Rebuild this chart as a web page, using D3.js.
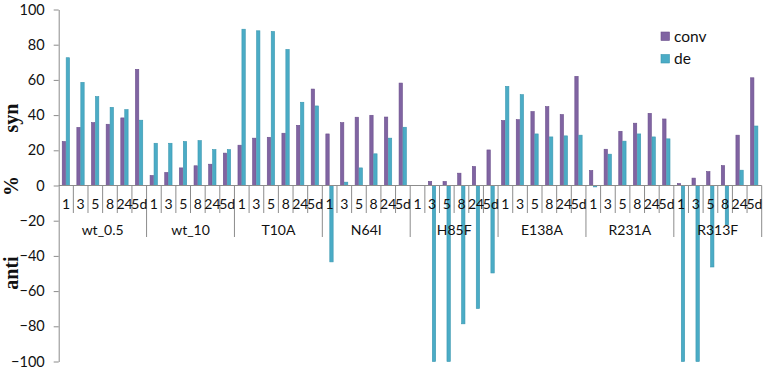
<!DOCTYPE html>
<html>
<head>
<meta charset="utf-8">
<style>
  body { margin: 0; background: #fff; }
  svg { display: block; font-family: Lato, "Open Sans", sans-serif; }
</style>
<script src="https://cdnjs.cloudflare.com/ajax/libs/d3/7.8.5/d3.min.js"></script>
</head>
<body>
<div id="chart"></div>
<script>
// data
const groups = ["wt_0.5", "wt_10", "T10A", "N64I", "H85F", "E138A", "R231A", "R313F"];
const times = ["1", "3", "5", "8", "24", "5d"];
const series = ["conv", "de"];
const conv = [
  25, 33, 35.7, 34.8, 38.4, 66,
  5.7, 7.4, 10, 11.2, 12.1, 18.4,
  22.9, 26.9, 27.4, 29.7, 34.2, 54.8,
  29.3, 35.7, 38.8, 39.9, 38.9, 58.2,
  0, 2.3, 2.3, 7, 10.8, 20.2,
  36.9, 37.4, 42, 44.8, 40.3, 62,
  8.5, 20.6, 30.8, 35.4, 41, 37.8,
  1.1, 4.2, 7.9, 11.3, 28.6, 61.2
];
const de = [
  72.6, 58.6, 50.5, 44.4, 43.1, 37.1,
  24, 24, 25, 25.5, 20.4, 20.4,
  88.8, 87.9, 87.5, 77.3, 47.3, 45.2,
  -43.4, 1.9, 10, 18, 26.9, 33.1,
  0, -100, -100, -78.6, -69.9, -49.7,
  56.3, 51.6, 29.3, 27.6, 28.2, 28.6,
  -0.8, 17.8, 25.2, 29.3, 27.6, 26.5,
  -100, -100, -46.3, -22.4, 8.7, 33.8
];
const yTicks = [-100, -80, -60, -40, -20, 0, 20, 40, 60, 80, 100];

const w = 765, h = 371;
const left = 58.7, right = 761.7;
const colors = { conv: "#8064A2", de: "#4BACC6" };
const strokes = { conv: "#6B4F8C", de: "#3A97B0" };

const rows = [];
groups.forEach((g, gi) => times.forEach((t, ti) => {
  const i = gi * times.length + ti;
  rows.push({ key: g + "|" + t, group: g, time: t, conv: conv[i], de: de[i] });
}));

const svg = d3.select("#chart").append("svg").attr("width", w).attr("height", h);

const x0 = d3.scaleBand().domain(rows.map(d => d.key)).range([left, right]).padding(0);
const bw = x0.bandwidth();
const x1 = d3.scaleBand().domain(series).range([bw * 0.24, bw * 0.78]).padding(0);
const xg = d3.scaleBand().domain(groups).range([left, right]).padding(0);
const y = d3.scaleLinear().domain([-100, 100]).range([361.5, 9.5]);

// bars
const cat = svg.append("g").selectAll("g").data(rows).join("g")
  .attr("transform", d => `translate(${x0(d.key)},0)`);
cat.selectAll("rect").data(d => series.map(s => ({ s, v: d[s] })).filter(e => e.v !== 0)).join("rect")
  .attr("x", e => x1(e.s))
  .attr("width", x1.bandwidth() - 0.6)
  .attr("y", e => y(Math.max(0, e.v)))
  .attr("height", e => Math.abs(y(e.v) - y(0)))
  .attr("fill", e => colors[e.s])
  .attr("stroke", e => strokes[e.s])
  .attr("stroke-width", 0.6);

// y axis
const yAxis = d3.axisLeft(y).tickValues(yTicks).tickSize(5).tickPadding(9).tickSizeOuter(0);
const ya = svg.append("g").attr("transform", `translate(${left},0)`).call(yAxis);
ya.select(".domain").attr("stroke", "#8c8c8c");
ya.selectAll(".tick line").attr("stroke", "#8c8c8c");
ya.selectAll(".tick text").attr("font-size", 14.5).attr("fill", "#111").attr("font-family", "Lato, sans-serif");

// x axis: zero line, category dividers and labels
const y0 = y(0);
const xa = svg.append("g");
xa.append("line").attr("x1", left).attr("x2", right).attr("y1", y0).attr("y2", y0).attr("stroke", "#8c8c8c");
xa.selectAll("line.div").data(rows).join("line").attr("class", "div")
  .attr("x1", d => x0(d.key) + bw).attr("x2", d => x0(d.key) + bw)
  .attr("y1", y0).attr("y2", (d, i) => (i % times.length === times.length - 1) ? 237 : 213)
  .attr("stroke", "#8c8c8c");
xa.selectAll("text.cat").data(rows).join("text").attr("class", "cat")
  .attr("x", d => x0(d.key) + bw / 2).attr("y", 209)
  .attr("text-anchor", "middle").attr("font-size", 14).attr("fill", "#111")
  .text(d => d.time);
xa.selectAll("text.grp").data(groups).join("text").attr("class", "grp")
  .attr("x", d => xg(d) + xg.bandwidth() / 2).attr("y", 235)
  .attr("text-anchor", "middle").attr("font-size", 14).attr("fill", "#111")
  .text(d => d);

// axis titles
const titleFont = "'Liberation Serif', 'Times New Roman', serif";
[["syn", 118], ["%", 186], ["anti", 273]].forEach(([t, cy]) => {
  svg.append("text")
    .attr("transform", `translate(18,${cy}) rotate(-90)`)
    .attr("text-anchor", "middle")
    .attr("font-family", titleFont).attr("font-weight", "bold").attr("font-size", 20)
    .attr("fill", "#111")
    .text(t);
});

// legend
const lg = svg.append("g").attr("transform", "translate(661,32)");
series.forEach((s, i) => {
  lg.append("rect").attr("x", 0).attr("y", i * 22.5).attr("width", 8.5).attr("height", 8.5)
    .attr("fill", colors[s]).attr("stroke", strokes[s]).attr("stroke-width", 0.6);
  lg.append("text").attr("x", 13).attr("y", i * 22.5 + 9.5)
    .attr("font-size", 15.5).attr("fill", "#111").text(s);
});
</script>
</body>
</html>
